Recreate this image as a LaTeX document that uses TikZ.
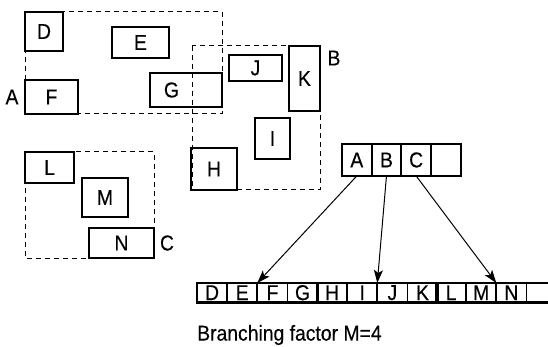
\documentclass[tikz,border=0pt]{standalone}
\usepackage{fontspec}
\setmainfont{Liberation Sans}[FakeStretch=0.9,FakeBold=0.3]
\usetikzlibrary{arrows.meta}
\begin{document}
\begin{tikzpicture}[x=1pt,y=-1pt,
  font=\fontsize{21.5}{24}\selectfont,
  box/.style={draw,line width=2.2pt,inner sep=0pt},
  region/.style={draw,line width=1pt,dash pattern=on 5pt off 4pt},
  cell/.style={draw,line width=0.9pt,inner sep=0pt,minimum width=29.25pt,minimum height=18.5pt},
  rcell/.style={draw,line width=0.9pt,inner sep=0pt,minimum width=28.75pt,minimum height=31pt},
  outerbox/.style={draw,line width=2.2pt},
  arr/.style={line width=1pt,-{Stealth[length=13pt,width=9pt,inset=3pt]}},
  lbl/.style={inner sep=0pt}]
\useasboundingbox (0,0) rectangle (548,347);
% dashed regions
\draw[region] (25,12) rectangle (222,114);
\draw[region] (192,46) rectangle (320,190);
\draw[region] (25,152) rectangle (154,258);
% boxes
\node[box,minimum width=38,minimum height=39,fill=white] (D) at (44,31.5) {D};
\node[box,minimum width=57,minimum height=31] (E) at (140.5,42.5) {E};
\node[box,minimum width=53,minimum height=34] (F) at (51.5,97) {F};
\node[box,minimum width=72,minimum height=34] (G) at (186,90) {};
\node[lbl] (Gt) at (171.5,90) {G};
\node[box,minimum width=53,minimum height=26] (J) at (255.5,68) {J};
\node[box,minimum width=31,minimum height=65] (K) at (304.5,78.5) {K};
\node[box,minimum width=35,minimum height=41] (I) at (272.5,138.5) {I};
\node[box,minimum width=46,minimum height=42] (H) at (214,169) {H};
\node[box,minimum width=49,minimum height=31] (L) at (49.5,167.5) {L};
\node[box,minimum width=46,minimum height=39] (M) at (105,197.5) {M};
\node[box,minimum width=65,minimum height=30] (N) at (121.5,243) {N};
% region labels
\node[lbl] (la) at (12,97) {A};
\node[lbl] (lb) at (334,58) {B};
\node[lbl] (lc) at (167,243) {C};
% root node
\node[rcell,anchor=north west] (rA) at (342,144) {A};
\node[rcell,anchor=west] (rB) at (rA.east) {B};
\node[rcell,anchor=west] (rC) at (rB.east) {C};
\node[rcell,anchor=west] (rD) at (rC.east) {};
\draw[outerbox] (rA.north west) rectangle (rD.south east);
% leaf 1
\node[cell,anchor=north west] (l1) at (197,283) {D};
\node[cell,anchor=west] (l2) at (l1.east) {E};
\node[cell,anchor=west] (l3) at (l2.east) {F};
\node[cell,anchor=west] (l4) at (l3.east) {G};
\draw[outerbox] (l1.north west) rectangle (l4.south east);
% leaf 2
\node[cell,anchor=north west] (m1) at (317,283) {H};
\node[cell,anchor=west] (m2) at (m1.east) {I};
\node[cell,anchor=west] (m3) at (m2.east) {J};
\node[cell,anchor=west] (m4) at (m3.east) {K};
\draw[outerbox] (m1.north west) rectangle (m4.south east);
% leaf 3
\node[cell,anchor=north west] (n1) at (436,283) {L};
\node[cell,anchor=west] (n2) at (n1.east) {M};
\node[cell,anchor=west] (n3) at (n2.east) {N};
\node[cell,anchor=west] (n4) at (n3.east) {};
\draw[outerbox] (n1.north west) rectangle (n4.south east);
% arrows
\draw[arr] (rA.south) -- (l2.north east);
\draw[arr] (rB.south) -- (m2.north east);
\draw[arr] (rC.south) -- (n2.north east);
% caption
\node[lbl,anchor=west] (cap) at (197,335) {Branching factor M=4};
\end{tikzpicture}
\end{document}
